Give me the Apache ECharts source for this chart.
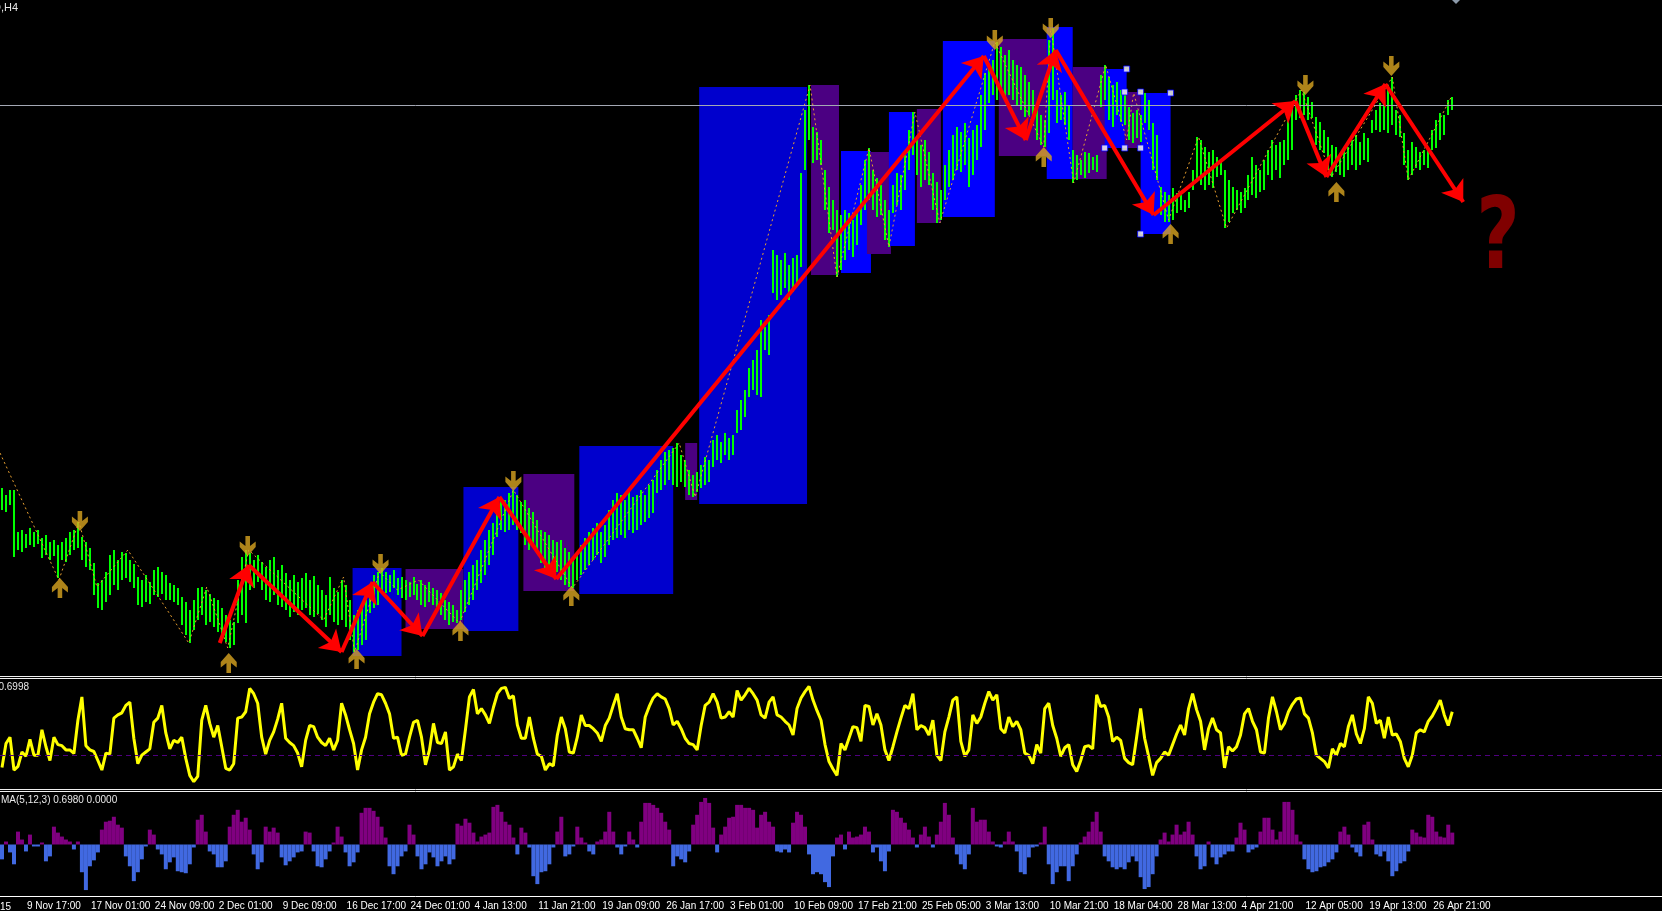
<!DOCTYPE html>
<html><head><meta charset="utf-8">
<script src="https://cdn.jsdelivr.net/npm/echarts@6/dist/echarts.min.js"></script>
<style>html,body{margin:0;padding:0;background:#000;overflow:hidden}#c{width:1662px;height:911px}</style>
</head><body><div id="c"></div>
<script>
// ---------- DATA ----------
const tickLabels = ['9 Nov 17:00','17 Nov 01:00','24 Nov 09:00','2 Dec 01:00','9 Dec 09:00','16 Dec 17:00','24 Dec 01:00','4 Jan 13:00','11 Jan 21:00','19 Jan 09:00','26 Jan 17:00','3 Feb 01:00','10 Feb 09:00','17 Feb 21:00','25 Feb 05:00','3 Mar 13:00','10 Mar 21:00','18 Mar 04:00','28 Mar 13:00','4 Apr 21:00','12 Apr 05:00','19 Apr 13:00','26 Apr 21:00'];
const firstTickLabel = '2 Nov 2015';
const chartTitle = 'D,H4';
const rsiTitle = '70.6998';
const osmaTitle = 'MA(5,12,3) 0.6980 0.0000';

// price bars (points) : high / low
const barHigh = [
512,505,510,510,468,470,466,472,468,470, 462,465,458,460,455,458,462,468,470,478,
463,458,452,437,417,420,428,445,450,440, 448,447,440,436,423,420,425,418,430,433,
428,425,417,415,412,403,398,390,400,412, 413,410,406,402,400,392,385,380,378,420,
443,450,447,440,445,438,433,440,443,430, 435,427,420,425,418,422,427,420,424,415,
410,405,423,412,408,420,415,400,385,390, 393,400,415,425,428,432,428,425,430,422,
423,420,418,423,416,420,415,418,412,410, 407,400,398,395,390,410,420,428,435,440,
450,460,470,477,490,503,500,507,510,505, 498,500,492,488,480,470,468,465,460,458,
460,452,448,440,445,455,462,468,472,477, 468,475,490,500,507,505,500,508,503,505,
510,505,515,520,530,540,548,550,552,557, 545,540,530,525,528,535,543,540,560,565,
558,567,562,565,590,600,610,632,640,650, 680,673,685,750,745,740,747,735,742,745,
827,890,915,873,868,860,830,813,800,790, 785,790,787,780,790,815,840,852,830,822,
815,800,790,815,827,825,845,870,888,863, 855,860,848,827,818,810,835,850,865,873,
868,877,862,870,875,905,927,935,940,958, 953,945,950,940,935,933,925,918,910,893,
885,880,960,972,910,905,908,895,850,845, 840,848,847,843,845,925,935,923,915,918,
910,905,893,887,890,885,907,900,877,865, 813,808,805,812,807,805,800,808,830,863,
860,853,848,850,843,840,830,820,813,810, 808,812,825,843,835,830,840,850,860,855,
858,860,885,893,905,910,908,903,898,883, 878,870,863,855,853,845,850,853,860,865,
858,867,862,880,890,897,905,915,923,890, 885,867,850,858,853,848,850,852,870,880,
887,885,900,903];
const barLow = [
490,488,495,443,450,448,452,455,453,456, 442,445,440,444,422,440,438,445,450,452,
440,433,430,405,392,390,398,405,415,410, 420,422,418,412,395,393,398,396,405,403,
406,400,400,398,395,375,365,357,370,380, 385,375,378,373,368,365,358,352,355,377,
385,377,410,412,418,410,400,398,405,395, 393,390,383,388,385,390,392,385,383,386,
380,373,385,378,375,380,373,360,348,350, 355,360,387,392,395,410,407,408,412,405,
402,400,403,405,400,395,393,398,395,393, 385,380,375,378,377,380,388,395,400,410,
417,425,435,445,463,470,468,470,475,470, 467,455,450,455,450,437,430,427,430,428,
420,415,413,412,420,425,430,435,440,445, 437,443,455,460,462,465,462,470,467,470,
475,478,482,487,507,510,515,520,515,513, 518,513,505,503,508,512,515,518,533,540,
537,545,540,545,567,570,583,603,610,605, 603,650,645,707,700,705,712,700,708,715,
733,830,860,837,840,835,790,767,770,723, 730,740,750,743,755,775,790,800,790,783,
785,760,753,787,795,790,810,830,845,825, 813,820,815,790,777,780,800,813,820,830,
828,835,813,825,840,853,870,897,905,900, 910,900,905,900,895,890,883,885,880,860,
855,853,867,900,877,880,875,860,817,820, 825,822,827,830,828,893,900,880,873,885,
878,875,860,857,862,858,877,870,830,820, 785,778,778,780,787,790,788,792,810,820,
815,810,815,812,823,825,772,778,787,790, 787,792,800,805,802,808,810,825,820,830,
822,835,840,850,880,882,885,880,882,855, 850,847,830,823,828,825,823,830,835,830,
835,840,838,867,870,868,870,867,875,865, 863,835,820,825,832,830,835,832,850,852,
860,865,885,890];

const rsiValues = [
18.5,41,47,16,19.5,33,29,45,30,30, 54,38,25,47,40,39,35,35,31.6,63,
85,39,35,33.5,25,16,32,31,65,68, 70,77,80,46,22,30,33,36,61,65,
77,51,36,44,42,47,27,11,5,10, 63,77,60,47,58,38,17.6,16,22,65,
66,71,93,88,79,47,31,44,52,64, 79,46,42,39,32,19,44,58,57,47,
42,39,46,35,44,79,68,54,41,16, 35,47,69,80,88,87,79,69,46,47,
30,31,47,61,63,47,21,35,60,42, 41,52,16,19,31,25,54,85,92,69,
74,68,60,75,88,93,94,83.6,86,58.5, 46,46,66,46,31,29,16,22,20,49,
66,55,33,32,47,68,58,58,55,51, 43,58,65,77,88,66,55,54,54,46,
37,66,76,84,88,85,83,74,58.5,62, 55,46,41,40,35,58,77,80,88,80,
65,66,71,66,91,82,87,93,88,82, 68,65,80,85,68,66,62,58.5,49,74,
84,90,95,82,72,63,40,24,17,11, 41,35,46,57,56,43,77,76,58.5,69,
58.5,35,25,38,52,65,77,74,88,54, 58,56,49,63,30,25,52,66,82,85,
43,29,35,68,60,66,79,90,82,87, 55,51,66,57,62,54,32,30,22,40,
32,74,79,58,46,29,37,40,21,14.6, 25,38,39,36,87,76,77,66,43,47,
44,27,23,21,47,74,46,29,11,23, 27,33,30,40,50,58.5,49,74,88,73,
62,35,55,65,54,51,18,38,34,38, 49,69,74,62,54,33,32,65,85,71,
54,60,71,78,83,84,69,65,51,30, 27,24,18,36,30,41,38,57,68,50,
41,55,85,79,60,63,46,66,49,50, 43,27,19,30,51,54,52,62,67,74,
82,68,58,71];
const rsiLevel = 30;

const osmaValues = [
-15,3,-8,-20,13,5,-7,10,-2,-2, 2,-17,-12,18,12,8,5,3,-5,3,
-28,-46,-22,-16,-8,15,23,24,28,20, 17,-12,-22,-37,-28,-15,-2,15,10,-5,
-10,-25,-18,-13,-27,-28,-29,-20,-3,25, 30,13,-7,-10,-23,-23,-17,18,30,35,
23,27,15,-10,-25,-18,18,13,17,12, -13,-21,-17,-13,-8,-7,13,12,-7,-22,
-23,-15,-7,2,18,8,-8,-22,-18,-8, 32,37,37,34,28,18,7,-22,-30,-22,
-12,-7,20,10,-12,-25,-20,-8,-13,-22, -17,-12,-20,-15,21,19,26,22,12,3,
8,10,12,38,40,33,23,20,7,-10, 17,12,-3,-32,-40,-28,-27,-20,-3,13,
28,-12,-10,-2,18,7,2,-7,-10,3, 5,13,33,13,-3,-10,-2,13,5,-3,
23,42,42,40,37,32,23,15,-22,-12, -15,-18,-7,20,30,43,47,42,17,-8,
10,18,27,28,40,40,37,37,35,17, 30,33,23,18,-7,-8,-5,-8,22,33,
30,18,-10,-30,-28,-30,-38,-43,-12,7, 10,-5,13,7,8,10,18,13,-8,-3,
-17,-27,-7,35,33,27,22,15,7,-3, 10,18,8,-3,10,23,42,30,7,-10,
-20,-25,-10,37,23,25,25,13,3,-2, -3,3,13,3,-7,-28,-30,-13,-3,-2,
2,18,-20,-40,-28,-22,-22,-37,-22,-10, 2,8,13,23,33,13,-12,-17,-23,-25,
-23,-25,-18,-12,-17,-33,-45,-43,-30,-12, 5,12,3,10,20,10,13,23,10,-12,
-25,-22,3,-13,-20,-13,-10,-7,-7,7, 22,15,-8,-5,-3,13,27,27,15,5,
13,43,43,35,10,3,-15,-25,-28,-27, -23,-22,-18,-15,-8,13,18,10,-3,-8,
-12,20,23,5,-10,-12,-7,-17,-32,-27, -19,-17,-7,15,12,8,7,30,28,13,
8,7,20,12];

// zigzag pivots [bar index, price]
const zigzagPts = [[-0.5,547],[14.25,420],[19.25,478],[23.75,413],[31.5,450],[46.75,357],[51.25,413],[56.5,352],[61.75,450],[80.5,380],[85.5,423],[88.25,348],[94.5,428],[99,410],[104.25,420],[114.5,377],[128,510],[142.75,412],[169.5,557],[173.5,503],[202.25,915],[209,723],[217,852],[222,753],[228.5,888],[234.75,777],[248.5,958],[260.75,853],[262.5,972],[268.25,817],[276.25,935],[281.5,860],[283.25,907],[292,780],[299.5,863],[306.5,772],[325.25,910],[332.75,823],[348,923],[352,820],[362.75,903]];
// hand drawn red trend arrows [bar index, price]
const trendPts = [[54.5,357],[61.75,435],[85,348],[92.75,418],[105.25,364],[124.5,503],[138.75,421],[245.75,944],[256.25,860],[263.75,950],[288.25,785],[323.75,899],[331.5,823],[346.25,916],[365.75,798]];
// fractal marks
const downMarks = [[19.5,479],[61.5,454],[94.75,436],[128,519],[248.5,960],[262.5,972],[326.25,915],[347.75,934]];
const upMarks = [[14.5,412],[56.75,337],[88.75,341],[114.75,369],[142.5,404],[260.75,843],[292.5,766],[334,808]];
// zones: [fromIndex, toIndex, top, bottom, kind]
const zones = [
[87.75,100,432,344,'blue'],[101,115.5,431,371,'purple'],[115.5,129.25,513,369,'blue'],[130.5,143.25,526,409,'purple'],
[144.5,168,554,406,'blue'],[171,174,557,500,'purple'],[174.5,201.5,913,496,'blue'],[202.5,209.5,915,725,'purple'],
[210,217.5,849,727,'bright'],[216.5,222.5,848,746,'purple'],[222,228.5,888,754,'bright'],[229,235,891,777,'purple'],
[235.5,248.5,959,783,'bright'],[249.5,261.75,961,844,'purple'],[261.5,268,973,821,'bright'],[268,276.5,933,821,'purple'],
[276,281.5,931,852,'bright'],[281,285,908,852,'purple'],[285,292.5,907,766,'bright']];
const zoneHandles = [[281.5,931],[276,852],[281,908],[285,908],[281,852],[285,852],[292.5,907],[285,766]];
const priceLine = 895;

// ---------- CHART ----------
const NCAT = 416;
const cats = new Array(NCAT).fill('');
tickLabels.forEach((t,k)=>{ cats[6+16*k] = t; });
const isTick = i => i >= 6 && (i-6) % 16 === 0 && i <= 6+16*(tickLabels.length-1);
const zoneColor = {blue:'#0000CD', bright:'#0000FF', purple:'#4B0082'};
const font = '"Liberation Sans", Arial, sans-serif';

const chart = echarts.init(document.getElementById('c'), null, {renderer:'canvas'});
const vx = (gi) => ({type:'value', gridIndex:gi, min:-0.5, max:NCAT-0.5, show:false, splitLine:{show:false}});
chart.setOption({
  backgroundColor:'#000000',
  animation:false,
  grid:[
    {left:0, right:0, top:0, height:675},
    {left:0, right:0, top:681, height:106},
    {left:0, right:0, top:792, height:105}
  ],
  xAxis:[ vx(0), vx(1),
    {type:'category', gridIndex:2, data:cats, boundaryGap:true, position:'bottom',
     axisLine:{onZero:false, lineStyle:{color:'#FFFFFF', width:1}},
     axisTick:{interval:(i)=>isTick(i), alignWithLabel:true, length:4, lineStyle:{color:'#FFFFFF'}},
     axisLabel:{interval:(i)=>isTick(i), align:'left', color:'#FFFFFF', fontSize:10, fontFamily:font, margin:5, padding:[0,0,0,1]},
     splitLine:{show:false}}
  ],
  yAxis:[
    {type:'value', gridIndex:0, min:325, max:1000, show:false, splitLine:{show:false}},
    {type:'value', gridIndex:1, min:0, max:100, show:false, splitLine:{show:false}},
    {type:'value', gridIndex:2, min:-52, max:53, show:false, splitLine:{show:false}}
  ],
  series:[
    {type:'custom', name:'zones', xAxisIndex:0, yAxisIndex:0, z:1,
     data: zones.map(z=>[z[0],z[1],z[2],z[3]]),
     encode:{x:[0,1], y:[2,3]},
     renderItem:(p,api)=>{
       const z = zones[p.dataIndex];
       const a = api.coord([api.value(0), api.value(2)]);
       const b = api.coord([api.value(1), api.value(3)]);
       return {type:'rect', shape:{x:a[0], y:a[1], width:b[0]-a[0], height:b[1]-a[1]}, style:{fill:zoneColor[z[4]]}};
     }},
    {type:'custom', name:'price', xAxisIndex:0, yAxisIndex:0, z:2,
     data: barHigh.map((h,i)=>[i,h,barLow[i]]),
     encode:{x:0, y:[1,2]},
     renderItem:(p,api)=>{
       const a = api.coord([api.value(0), api.value(1)]);
       const b = api.coord([api.value(0), api.value(2)]);
       const x = Math.round(a[0]);
       return {type:'line', shape:{x1:x, y1:a[1], x2:x, y2:b[1]}, style:{stroke:'#00FF00', lineWidth:2}};
     }},
    {type:'line', name:'zigzag', xAxisIndex:0, yAxisIndex:0, z:3, data:zigzagPts, symbol:'none',
     lineStyle:{color:'#E8A030', width:1, type:[2,3]},
     markLine:{silent:true, symbol:'none', label:{show:false}, data:[{yAxis:priceLine}],
       lineStyle:{color:'#A4A8B4', width:1, type:'solid'}}},
    {type:'scatter', name:'handles', xAxisIndex:0, yAxisIndex:0, z:5, data:zoneHandles, symbol:'rect', symbolSize:6,
     itemStyle:{color:'#FFFFFF', borderColor:'#0000FF', borderWidth:1}},
    {type:'scatter', name:'down', xAxisIndex:0, yAxisIndex:0, z:5, data:downMarks,
     symbol:'path://M5,0 L9,0 L9,9 L14,5 L14,10 L7,18 L0,10 L0,5 L5,9 Z', symbolSize:[16,20], symbolKeepAspect:false,
     itemStyle:{color:'#DAA520'}},
    {type:'scatter', name:'up', xAxisIndex:0, yAxisIndex:0, z:5, data:upMarks,
     symbol:'path://M5,18 L9,18 L9,9 L14,13 L14,8 L7,0 L0,8 L0,13 L5,9 Z', symbolSize:[16,20], symbolKeepAspect:false,
     itemStyle:{color:'#DAA520'}},
    {type:'lines', name:'trend', coordinateSystem:'cartesian2d', xAxisIndex:0, yAxisIndex:0, z:6,
     data: trendPts.slice(1).map((p,k)=>({coords:[trendPts[k], p]})),
     symbol:['none','arrow'], symbolSize:20,
     lineStyle:{color:'#FF0000', width:4, opacity:1, curveness:0}},
    {type:'line', name:'rsi', xAxisIndex:1, yAxisIndex:1, z:3, data: rsiValues.map((v,i)=>[i,v]), symbol:'none',
     lineStyle:{color:'#FFFF00', width:3},
     markLine:{silent:true, symbol:'none', label:{show:false}, data:[{yAxis:rsiLevel}],
       lineStyle:{color:'#50007F', width:1, type:[5,4]}}},
    {type:'bar', name:'osma', xAxisIndex:2, yAxisIndex:2, data:osmaValues, barWidth:'100%', barCategoryGap:'0%',
     itemStyle:{color:(p)=> p.value >= 0 ? '#800080' : '#4169E1'}}
  ],
  graphic:[
    {type:'line', shape:{x1:0,y1:676.5,x2:1662,y2:676.5}, style:{stroke:'#F0F0F0', lineWidth:1}, silent:true},
    {type:'line', shape:{x1:0,y1:678.5,x2:1662,y2:678.5}, style:{stroke:'#F0F0F0', lineWidth:1}, silent:true},
    {type:'line', shape:{x1:0,y1:789.5,x2:1662,y2:789.5}, style:{stroke:'#F0F0F0', lineWidth:1}, silent:true},
    {type:'line', shape:{x1:0,y1:791.5,x2:1662,y2:791.5}, style:{stroke:'#F0F0F0', lineWidth:1}, silent:true},
    {type:'text', style:{text:chartTitle, x:18, y:2, textAlign:'right', textVerticalAlign:'top', fill:'#E8E8E8', font:'11px '+font}},
    {type:'text', style:{text:rsiTitle, x:29, y:682, textAlign:'right', textVerticalAlign:'top', fill:'#E8E8E8', font:'10px '+font}},
    {type:'text', style:{text:osmaTitle, x:1, y:795, textAlign:'left', textVerticalAlign:'top', fill:'#E8E8E8', font:'10px '+font}},
    {type:'text', style:{text:firstTickLabel, x:11, y:907, textAlign:'right', textVerticalAlign:'middle', fill:'#FFFFFF', font:'10px '+font}},
    {type:'text', style:{text:'?', x:1498, y:242, textAlign:'center', textVerticalAlign:'middle', fill:'#800000', font:'bold 100px "DejaVu Sans", sans-serif'}, scaleX:0.75, originX:1498, originY:242, z:10},
    {type:'polygon', shape:{points:[[1452,0],[1460,0],[1456,4]]}, style:{fill:'#8C9AAA'}}
  ]
});
</script></body></html>
